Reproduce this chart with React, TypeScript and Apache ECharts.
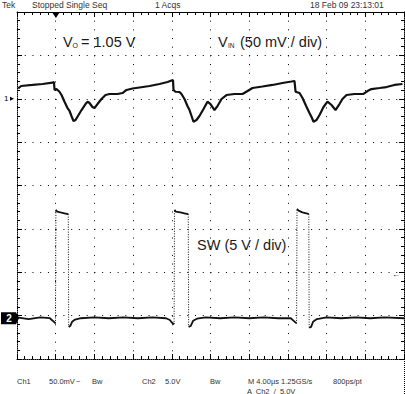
import React, { useEffect, useRef } from "react";
import * as echarts from "echarts";

// Time base: M 4.00 µs / div, 10 divisions
const timeMin = 0;
const timeMax = 40;
const timeDiv = 4;

// Ch1: VIN, 50 mV/div, AC coupled, reference 6 divisions above the bottom
const vinMin = -300;
const vinMax = 100;
const vinDiv = 50;

// Ch2: SW, 5 V/div, ground ~0.94 div above the bottom
const swMin = -4.7;
const swMax = 35.3;
const swTrigLevel = 5.0;

const vinTimeUs = [
  0.12, 0.43, 1.6, 2.64, 3.67, 3.82, 3.88, 4.08, 4.39, 4.6, 4.91, 5.22, 5.43, 5.63, 5.84, 6.05, 6.25, 6.67,
  7.08, 7.29, 7.49, 7.8, 8.01, 8.32, 8.73, 9.15, 9.56, 10.39, 10.9, 11.32, 11.94, 12.66, 13.7, 14.73, 15.56,
  15.97, 16.12, 16.18, 16.38, 16.8, 17.0, 17.31, 17.62, 17.83, 18.04, 18.24, 18.55, 18.86, 19.28, 19.69, 20.0,
  20.41, 20.72, 21.14, 21.65, 22.48, 23.31, 23.83, 24.34, 25.37, 26.41, 27.44, 28.37, 28.68, 28.79, 29.2,
  29.51, 29.92, 30.23, 30.44, 30.65, 30.96, 31.27, 31.68, 32.09, 32.51, 32.92, 33.33, 33.64, 34.06, 34.88,
  35.81, 36.23, 36.63, 37.47, 38.19, 39.01, 39.84,
];
const vinMv = [
  12.0, 14.7, 15.9, 17.0, 18.5, 19.3, 10.1, 11.2, 8.1, 4.3, -3.4, -10.7, -14.1, -19.9, -25.7, -24.5, -20.7, -13.0,
  -6.1, -3.4, -4.9, -9.5, -10.7, -6.1, -0.3, 4.3, 5.5, 5.5, 6.6, 10.1, 11.8, 13.0, 14.7, 17.0, 19.3,
  21.0, 21.6, 10.1, 8.1, 7.8, 5.5, -0.3, -8.4, -13.0, -19.9, -26.5, -24.5, -19.9, -11.8, -3.4, -6.1,
  -13.0, -8.4, -0.3, 4.3, 5.5, 5.5, 8.9, 12.4, 14.1, 15.9, 18.2, 19.9, 20.5, 8.1, 6.6,
  0.9, -9.2, -16.4, -21.0, -26.5, -24.5, -18.7, -9.5, -3.4, -7.2, -13.0, -6.1, -0.3, 4.3, 5.5,
  5.5, 8.9, 11.2, 12.4, 13.5, 15.9, 17.0,
];

const swTimeUs = [
  0, 1.2, 2.4, 3.4, 3.6, 3.8, 3.98,
  4.02, 4.15, 4.5, 4.9, 5.3,
  5.34, 5.5, 5.7, 6.0, 6.6, 8, 9.5, 11, 12.5, 14, 15.4, 15.8, 16.0, 16.24,
  16.28, 16.4, 16.9, 17.3, 17.7,
  17.74, 17.95, 18.2, 18.6, 19.5, 21, 22.5, 24, 25.5, 27, 28.3, 28.6, 28.9,
  28.94, 29.1, 29.5, 29.9, 30.16,
  30.2, 30.4, 30.6, 31.0, 32, 33.5, 35, 36.5, 38, 40,
];
const swVolts = [
  0.1, -0.1, 0.1, 0.0, -0.2, -0.4, -0.6,
  12.5, 12.3, 12.2, 12.1, 12.0,
  -1.0, -0.9, -0.4, -0.15, 0.0, 0.1, 0.0, 0.1, 0.0, 0.1, 0.0, -0.2, -0.5, -0.7,
  12.5, 12.3, 12.2, 12.1, 12.0,
  -1.0, -0.9, -0.3, -0.05, 0.1, 0.0, 0.1, 0.0, 0.1, 0.0, 0.0, -0.3, -0.6,
  12.6, 12.4, 12.2, 12.1, 12.0,
  -1.1, -1.0, -0.4, -0.1, 0.1, 0.0, 0.1, 0.0, 0.1, 0.0,
];

const headerTexts = ["Tek", "Stopped Single Seq", "1 Acqs", "18 Feb 09 23:13:01"];
const footerLine1 = ["Ch1", "50.0mV", "~", "Bw", "Ch2", "5.0V", "Bw", "M 4.00\u00b5s 1.25GS/s", "800ps/pt"];
const footerLine2 = "A  Ch2  /  5.0V";

const SANS = "'Liberation Sans', Arial, Helvetica, sans-serif";
const INK = "#1a1a1a";

function buildOption() {
  const vinData = vinTimeUs.map((t, i) => [t, vinMv[i]]);
  const swLevels: any[] = [];
  const swEdges: any[] = [];
  for (let i = 0; i < swTimeUs.length; i++) {
    swLevels.push([swTimeUs[i], swVolts[i]]);
    if (i + 1 < swTimeUs.length && Math.abs(swVolts[i + 1] - swVolts[i]) > 5) {
      swLevels.push([(swTimeUs[i] + swTimeUs[i + 1]) / 2, null]);
      swEdges.push([swTimeUs[i], swVolts[i]], [swTimeUs[i + 1], swVolts[i + 1]], [swTimeUs[i + 1], null]);
    }
  }

  const gridLeft = 17;
  const gridTop = 12;
  const gridW = 387;
  const gridH = 347;
  const pxPerDivX = gridW / 10;
  const pxPerDivY = gridH / 8;

  const axisBase = {
    type: "value",
    axisLabel: { show: false },
    axisTick: { show: true, inside: true, length: 5, lineStyle: { color: "#000", width: 1 } },
    minorTick: { show: true, splitNumber: 5, length: 3, lineStyle: { color: "#000", width: 1 } },
  };

  const small = (text: string, x: number, y: number, extra: any = {}) => ({
    type: "text",
    x,
    y,
    z: 100,
    style: {
      text,
      fill: "#333",
      fontSize: 8.5,
      fontFamily: SANS,
      verticalAlign: "middle",
      ...extra,
    },
  });
  const foot = (text: string, x: number, y: number) => small(text, x, y, { fontSize: 7.5 });
  const big = (text: string, x: number, y: number, size = 14.5) => ({
    type: "text",
    x,
    y,
    z: 100,
    style: { text, fill: INK, fontSize: size, fontFamily: SANS, verticalAlign: "middle" },
  });

  const trigY = gridTop + gridH - ((swTrigLevel - swMin) / (swMax - swMin)) * gridH;
  const ch1Y = gridTop + gridH - ((0 - vinMin) / (vinMax - vinMin)) * gridH;
  const ch2Y = gridTop + gridH - ((0 - swMin) / (swMax - swMin)) * gridH;
  const trigX = gridLeft + ((swTimeUs[7] - timeMin) / (timeMax - timeMin)) * gridW;

  return {
    animation: false,
    backgroundColor: "#fff",
    grid: { left: gridLeft, top: gridTop, width: gridW, height: gridH },
    xAxis: [
      {
        ...axisBase,
        min: timeMin,
        max: timeMax,
        interval: timeDiv,
        position: "bottom",
        axisLine: { show: true, onZero: false, lineStyle: { color: "#000", width: 1, type: [1, 1] } },
        splitLine: { show: true, lineStyle: { color: "#000", width: 1, type: [1, pxPerDivY / 5 - 1] } },
      },
      {
        ...axisBase,
        min: timeMin,
        max: timeMax,
        interval: timeDiv,
        position: "top",
        axisLine: { show: true, onZero: false, lineStyle: { color: "#000", width: 1 } },
        splitLine: { show: false },
      },
    ],
    yAxis: [
      {
        ...axisBase,
        min: vinMin,
        max: vinMax,
        interval: vinDiv,
        position: "left",
        axisLine: { show: true, onZero: false, lineStyle: { color: "#000", width: 1, type: [1, 1] } },
        splitLine: { show: true, lineStyle: { color: "#000", width: 1, type: [1, pxPerDivX / 5 - 1] } },
      },
      {
        ...axisBase,
        min: vinMin,
        max: vinMax,
        interval: vinDiv,
        position: "right",
        axisLine: { show: true, onZero: false, lineStyle: { color: "#000", width: 1, type: [1, 1] } },
        splitLine: { show: false },
      },
      { type: "value", min: swMin, max: swMax, show: false, position: "right" },
    ],
    series: [
      {
        name: "VIN",
        type: "line",
        xAxisIndex: 0,
        yAxisIndex: 0,
        data: vinData,
        showSymbol: false,
        lineStyle: { color: "#111", width: 2.2 },
        z: 10,
      },
      {
        name: "SW",
        type: "line",
        xAxisIndex: 0,
        yAxisIndex: 2,
        data: swLevels,
        connectNulls: false,
        showSymbol: false,
        lineStyle: { color: "#111", width: 1.8 },
        z: 10,
      },
      {
        name: "SW edges",
        type: "line",
        xAxisIndex: 0,
        yAxisIndex: 2,
        data: swEdges,
        connectNulls: false,
        showSymbol: false,
        lineStyle: { color: "#111", width: 1, type: [1, 1.5] },
        z: 10,
      },
    ],
    graphic: [
      // header
      small(headerTexts[0], 2, 5),
      small(headerTexts[1], 32, 5),
      small(headerTexts[2], 155, 5),
      small(headerTexts[3], 310, 5),
      // footer
      foot(footerLine1[0], 17, 381),
      foot(footerLine1[1], 49, 381),
      foot(footerLine1[2], 76, 381),
      foot(footerLine1[3], 92, 381),
      foot(footerLine1[4], 142, 381),
      foot(footerLine1[5], 165, 381),
      foot(footerLine1[6], 210, 381),
      foot(footerLine1[7], 248, 381),
      foot(footerLine1[8], 333, 381),
      foot(footerLine2, 247, 391),
      // annotations
      big("V", 63, 42),
      big("O", 72.5, 45, 7),
      big("= 1.05 V", 81, 42),
      big("V", 218, 42),
      big("IN", 228, 45, 6.5),
      big("(50 mV / div)", 240, 42),
      big("SW (5 V / div)", 197, 245),
      // trigger position marker
      {
        type: "polygon",
        z: 100,
        shape: { points: [[trigX - 4, gridTop], [trigX + 4, gridTop], [trigX, gridTop + 6]] },
        style: { fill: "#000" },
      },
      // ch1 reference marker
      small("1", 4, ch1Y, { fill: "#000", fontSize: 8 }),
      {
        type: "polygon",
        z: 100,
        shape: { points: [[10, ch1Y - 2], [14, ch1Y], [10, ch1Y + 2]] },
        style: { fill: "#000" },
      },
      // ch2 reference marker
      {
        type: "polygon",
        z: 100,
        shape: {
          points: [[1, ch2Y - 6], [16, ch2Y - 6], [19, ch2Y], [16, ch2Y + 6], [1, ch2Y + 6]],
        },
        style: { fill: "#000" },
      },
      {
        type: "text",
        x: 9,
        y: ch2Y,
        z: 101,
        style: {
          text: "2",
          fill: "#fff",
          fontSize: 10,
          fontWeight: "bold",
          fontFamily: SANS,
          align: "center",
          verticalAlign: "middle",
        },
      },
      // trigger level marker
      small("\u2190", 392, trigY, { fill: "#000", fontSize: 8 }),
      // right edge continuation
      {
        type: "line",
        z: 100,
        shape: { x1: 404.5, y1: gridTop + gridH, x2: 404.5, y2: 394 },
        style: { stroke: "#000", lineWidth: 1, lineDash: [1, 1] },
      },
    ],
  };
}

export default function App() {
  const ref = useRef<HTMLDivElement>(null);
  useEffect(() => {
    if (!ref.current) return;
    const chart = echarts.init(ref.current, null, { renderer: "svg" });
    chart.setOption(buildOption() as any);
    return () => chart.dispose();
  }, []);
  return (
    <div
      ref={ref}
      style={{ position: "fixed", left: 0, top: 0, width: 405, height: 394, background: "#fff" }}
    />
  );
}
